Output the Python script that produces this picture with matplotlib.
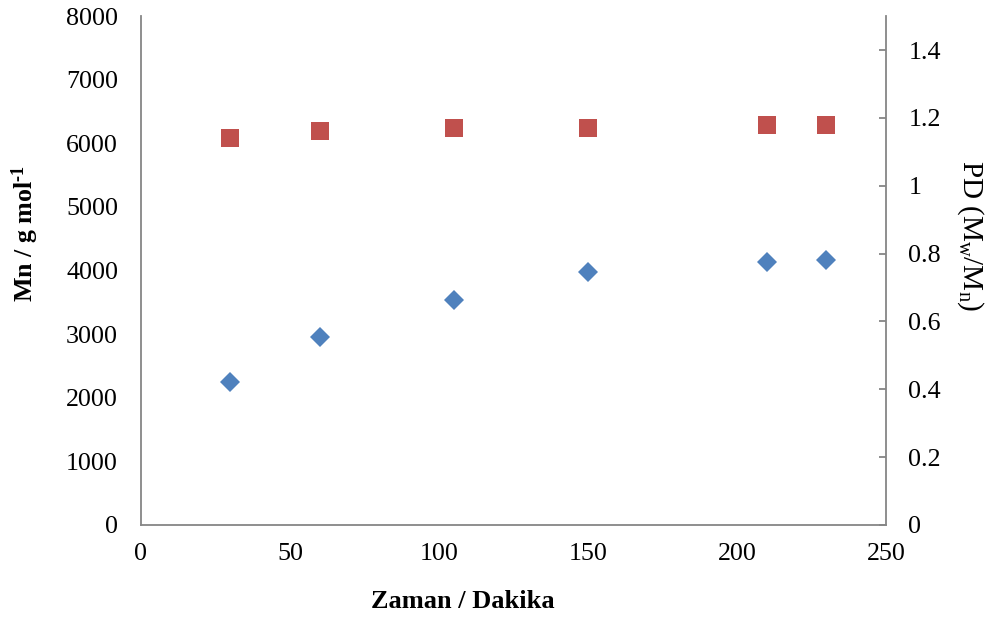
import matplotlib
matplotlib.use("Agg")
import matplotlib.pyplot as plt
from matplotlib.ticker import MultipleLocator

plt.rcParams['font.family'] = ['Liberation Serif', 'DejaVu Serif']
plt.rcParams['mathtext.fontset'] = 'custom'
plt.rcParams['mathtext.rm'] = 'Liberation Serif'
plt.rcParams['mathtext.it'] = 'Liberation Serif:italic'
plt.rcParams['mathtext.bf'] = 'Liberation Serif:bold'

# Reaction time (min)
time_min = [30, 60, 105, 150, 210, 230]
# Number-average molar mass (g/mol)
mn_values = [2250, 2960, 3530, 3980, 4140, 4160]
# Polydispersity Mw/Mn
pd_values = [1.14, 1.16, 1.17, 1.17, 1.18, 1.18]

blue = '#4F81BD'
red = '#C0504D'
spine_col = '#868686'
fs = 18.7

fig = plt.figure(figsize=(9.86, 6.19), dpi=100)
ax = fig.add_axes([0.143, 0.152, 0.7556, 0.822])
ax2 = ax.twinx()

ax.plot(time_min, mn_values, linestyle='none', marker='D', ms=10.5,
        color=blue, markeredgewidth=0)
ax2.plot(time_min, pd_values, linestyle='none', marker='s', ms=13,
         color=red, markeredgewidth=0)

ax.set_xlim(0, 250)
ax.set_ylim(0, 8000)
ax2.set_ylim(0, 1.5)
ax.xaxis.set_major_locator(MultipleLocator(50))
ax.yaxis.set_major_locator(MultipleLocator(1000))
ax2.set_yticks([0, 0.2, 0.4, 0.6, 0.8, 1.0, 1.2, 1.4])
ax2.set_yticklabels(['0', '0.2', '0.4', '0.6', '0.8', '1', '1.2', '1.4'])

for a in (ax, ax2):
    for s in a.spines.values():
        s.set_visible(False)
ax.spines['left'].set_visible(True)
ax.spines['bottom'].set_visible(True)
ax2.spines['right'].set_visible(True)
for s in (ax.spines['left'], ax.spines['bottom'], ax2.spines['right']):
    s.set_color(spine_col)
    s.set_linewidth(1.3)

ax.tick_params(axis='x', length=0, pad=13, labelsize=fs)
ax.tick_params(axis='y', length=0, pad=16.5, labelsize=fs)
ax2.tick_params(axis='y', direction='in', length=5, width=1.3,
                color=spine_col, pad=16, labelsize=fs)

# Axis titles
fig.text(463 / 986, 1 - 601 / 619, 'Zaman / Dakika', fontsize=19,
         fontweight='bold', ha='center', va='center')
fig.text(25 / 986, 1 - 233 / 619, 'Mn / g mol$^{\\mathbf{\u20101}}$',
         fontsize=18.7, fontweight='bold', rotation=90,
         ha='center', va='center')
fig.text(970 / 986, 1 - 236 / 619, r'PD (M$_{\mathrm{w}}$/M$_{\mathrm{n}}$)',
         fontsize=21, rotation=270, ha='center', va='center')

fig.savefig('out.png', dpi=100)
